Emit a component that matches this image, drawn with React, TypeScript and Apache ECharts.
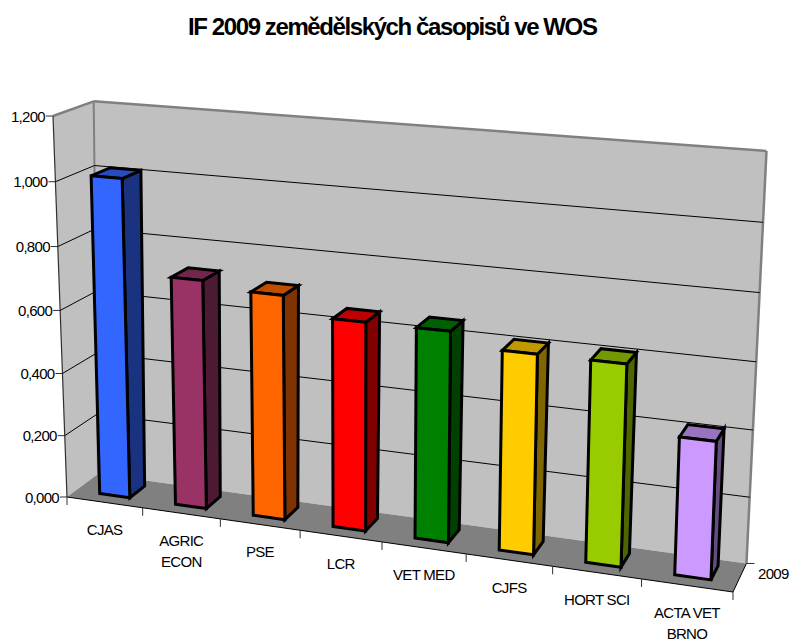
import React, { useEffect, useRef } from "react";
import * as echarts from "echarts";

const titleText = "IF 2009 zemědělských časopisů ve WOS";
const categories = ["CJAS", "AGRIC\nECON", "PSE", "LCR", "VET MED", "CJFS", "HORT SCI", "ACTA VET\nBRNO"];
const values = [1.01, 0.72, 0.7, 0.645, 0.645, 0.605, 0.605, 0.41];
const tickValues = [0, 0.2, 0.4, 0.6, 0.8, 1.0, 1.2];
const tickLabels = ["0,000", "0,200", "0,400", "0,600", "0,800", "1,000", "1,200"];
const seriesName = "2009";
const frontColors = ["#3366FF", "#993366", "#FF6600", "#FF0000", "#008000", "#FFCC00", "#99CC00", "#CC99FF"];
const sideColors = ["#1A3380", "#4D1A33", "#803300", "#800000", "#004000", "#806600", "#4D6600", "#664D80"];
const topColors = ["#264DBF", "#73264D", "#BF4D00", "#BF0000", "#006000", "#BF9900", "#739900", "#9973BF"];

// Perspective of the 3D box: u along categories, d into depth, h up the value axis (all 0..1)
const P0 = [67, 497];
const PU = [733, 592];
const PD = [98, 474];
const PH = [53, 116];
const WU = -0.1025;
const WD = 0.0292;
const WH = -0.0407;
function project(u: number, d: number, h: number): number[] {
  const w = 1 + WU * u + WD * d + WH * h;
  const p = [0, 1].map(
    (k) =>
      (P0[k] +
        u * (PU[k] * (1 + WU) - P0[k]) +
        d * (PD[k] * (1 + WD) - P0[k]) +
        h * (PH[k] * (1 + WH) - P0[k])) /
      w
  );
  return [p[0] + h * d * (8 - 4 * u), p[1] + h * d * (-2 - u)];
}

const FONT = "Liberation Sans";
const EDGE = "#808080";
const WALL = "#C0C0C0";
const FLOOR = "#808080";

function line(a: number[], b: number[], stroke: string, lineWidth: number) {
  return {
    type: "line",
    shape: { x1: a[0], y1: a[1], x2: b[0], y2: b[1] },
    style: { stroke, lineWidth, fill: "none" },
  };
}
function poly(points: number[][], fill: string, stroke?: string, lineWidth?: number) {
  return {
    type: "polygon",
    shape: { points },
    style: { fill, stroke: stroke || "none", lineWidth: lineWidth || 0, lineJoin: "miter" },
  };
}
function label(text: string, x: number, y: number, align: string) {
  return {
    type: "text",
    style: { text, x, y, align, verticalAlign: "middle", fill: "#000", font: `15px "${FONT}"` },
  };
}

function renderFrame() {
  const [a, b, c, d] = [project(0, 1, 0), project(1, 1, 0), project(1, 1, 1), project(0, 1, 1)];
  const fl = project(0, 0, 0);
  const fr = project(1, 0, 0);
  const tl = project(0, 0, 1);
  return {
    type: "group",
    children: [
      poly([fl, a, d, tl], WALL),
      poly([a, b, c, d], WALL),
      poly([fl, fr, b, a], FLOOR),
      line(tl, d, EDGE, 2.5),
      line(d, c, EDGE, 2.5),
      line(c, b, EDGE, 2.5),
      line(d, a, EDGE, 2),
      line(fl, tl, "#303030", 1.2),
      line(fl, fr, "#000", 1),
      line(fr, b, "#000", 1),
      line(b, [b[0] + 8, b[1]], "#303030", 1),
      label(seriesName, fr[0] + 25, fr[1] - 19, "left"),
    ],
  };
}

function renderTick(params: any, api: any) {
  const cs = params.coordSys;
  const i = params.dataIndex;
  const h = (cs.y + cs.height - api.coord([0, api.value(1)])[1]) / cs.height;
  const f = project(0, 0, h);
  const back = project(0, 1, h);
  const right = project(1, 1, h);
  const kids: any[] = [
    line(f, [f[0] - 7, f[1]], "#303030", 1),
    label(tickLabels[i], f[0] - 8, f[1], "right"),
  ];
  if (i > 0 && i < tickValues.length - 1) {
    kids.push(line(f, back, "#000", 1), line(back, right, "#000", 1));
  }
  return { type: "group", children: kids };
}

function renderAxisX(params: any, api: any) {
  const cs = params.coordSys;
  const i = params.dataIndex;
  const band = api.size([1, 0])[0] / cs.width;
  const uc = (api.coord([i, 0])[0] - cs.x) / cs.width;
  const e = project(uc + band / 2, 0, 0);
  const m = project(uc, 0, 0);
  const kids: any[] = [line(e, [e[0], e[1] + 8], "#303030", 1)];
  categories[i].split("\n").forEach((t, k) => {
    kids.push(label(t, m[0], m[1] + 27 + k * 21, "center"));
  });
  if (i === 0) {
    const s = project(0, 0, 0);
    kids.push(line(s, [s[0], s[1] + 8], "#303030", 1));
  }
  return { type: "group", children: kids };
}

function renderBar(params: any, api: any) {
  const cs = params.coordSys;
  const i = params.dataIndex;
  const band = api.size([1, 0])[0] / cs.width;
  const top = api.coord([i, api.value(1)]);
  const uc = (top[0] - cs.x) / cs.width + 0.002;
  const h = (cs.y + cs.height - top[1]) / cs.height;
  const u0 = uc - band * 0.2;
  const u1 = uc + band * 0.2;
  const d0 = 0.29;
  const d1 = 0.79;
  const lw = 3;
  return {
    type: "group",
    children: [
      poly([project(u1, d0, 0), project(u1, d1, 0), project(u1, d1, h), project(u1, d0, h)], sideColors[i], "#000", lw),
      poly([project(u0, d0, h), project(u1, d0, h), project(u1, d1, h), project(u0, d1, h)], topColors[i], "#000", lw),
      poly([project(u0, d0, 0), project(u1, d0, 0), project(u1, d0, h), project(u0, d0, h)], frontColors[i], "#000", lw),
    ],
  };
}

export default function App() {
  const ref = useRef<HTMLDivElement>(null);
  useEffect(() => {
    const chart = echarts.init(ref.current!, undefined, { renderer: "svg" });
    chart.setOption({
      animation: false,
      backgroundColor: "#fff",
      title: {
        text: titleText,
        left: 183,
        top: 9,
        textStyle: { fontFamily: FONT, fontSize: 24, fontWeight: "bold", color: "#000" },
      },
      grid: { left: 0, right: 0, top: 0, bottom: 0 },
      xAxis: { type: "category", data: categories, show: false },
      yAxis: { type: "value", min: 0, max: 1.2, interval: 0.2, show: false },
      series: [
        { type: "custom", name: "frame", data: [[0, 0]], renderItem: renderFrame, silent: true, clip: false, z: 1 },
        { type: "custom", name: "ticks", data: tickValues.map((v) => [0, v]), renderItem: renderTick, silent: true, z: 2 },
        { type: "custom", name: "xaxis", data: categories.map((_, i) => [i, 0]), renderItem: renderAxisX, silent: true, z: 3 },
        { type: "custom", name: seriesName, data: values.map((v, i) => [i, v]), renderItem: renderBar, silent: true, z: 4 },
      ],
    });
    return () => chart.dispose();
  }, []);
  return (
    <>
      <style>{`text[style*="bold"] { letter-spacing: -1.4px; }`}</style>
      <div
        ref={ref}
        style={{ position: "absolute", left: 0, top: 0, width: 792, height: 641, letterSpacing: "-0.7px" }}
      />
    </>
  );
}
